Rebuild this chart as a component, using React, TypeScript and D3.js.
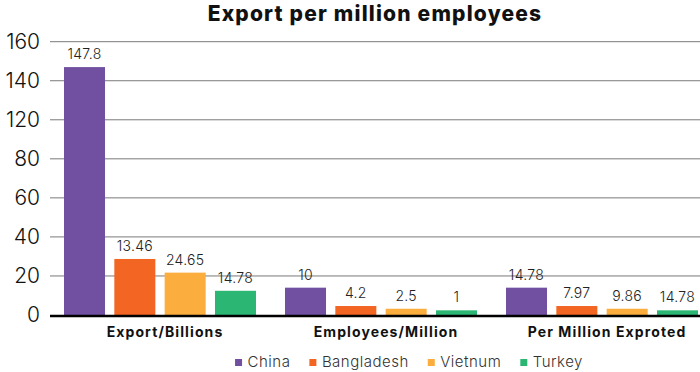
import React, {useEffect, useRef} from 'react'
import * as d3 from 'd3'

const width = 700
const height = 372
const baseY = 315
const topY = 41.7
const plotLeft = 50
const fontFamily = 'Inter, "Open Sans", sans-serif'

const categories = ['Export/Billions', 'Employees/Million', 'Per Million Exproted']
const countries = ['China', 'Bangladesh', 'Vietnum', 'Turkey']
const colors = ['#7150a2', '#f26522', '#fbad3e', '#2bb673']

// bar heights as drawn against the (uneven) axis
const china = [147, 14, 14]
const bangladesh = [28.7, 4.6, 4.6]
const vietnam = [21.7, 3.2, 3.2]
const turkey = [12.4, 2.4, 2.4]

// value labels printed above the bars
const chinaLabels = ['147.8', '10', '14.78']
const bangladeshLabels = ['13.46', '4.2', '7.97']
const vietnamLabels = ['24.65', '2.5', '9.86']
const turkeyLabels = ['14.78', '1', '14.78']

// axis labels as printed (100 is skipped)
const yTicks = [0, 20, 40, 60, 80, 120, 140, 160]

const series = [china, bangladesh, vietnam, turkey]
const seriesLabels = [chinaLabels, bangladeshLabels, vietnamLabels, turkeyLabels]

const App = () => {
  const ref = useRef<SVGSVGElement>(null)

  useEffect(() => {
    const svg = d3.select(ref.current)
    svg.selectAll('*').remove()

    const step = (baseY - topY) / (yTicks.length - 1)
    const y = d3
      .scaleLinear()
      .domain(yTicks)
      .range(yTicks.map((_, i) => baseY - i * step))

    const x0 = d3.scaleBand().domain(categories).range([49.5, 712.5])
    const x1 = d3
      .scaleBand()
      .domain(countries)
      .range([14.5, x0.bandwidth() - 14.5])
      .paddingInner(0.185)

    // title
    svg
      .append('text')
      .attr('x', 375)
      .attr('y', 21)
      .attr('text-anchor', 'middle')
      .style('font-family', fontFamily)
      .style('font-weight', 800)
      .style('font-size', '21px')
      .style('letter-spacing', '1.2px')
      .attr('fill', '#111')
      .text('Export per million employees')

    // gridlines
    svg
      .append('g')
      .selectAll('line')
      .data(yTicks.slice(1))
      .enter()
      .append('line')
      .attr('x1', plotLeft)
      .attr('x2', width)
      .attr('y1', d => y(d))
      .attr('y2', d => y(d))
      .attr('stroke', '#7a7a7a')
      .attr('stroke-width', 1)

    // y axis labels
    const yAxis = svg
      .append('g')
      .attr('transform', `translate(${plotLeft - 10},0)`)
      .call(d3.axisLeft(y).tickValues(yTicks).tickSize(0).tickPadding(0).tickFormat(d3.format('d')))
    yAxis.select('.domain').remove()
    yAxis
      .selectAll('text')
      .style('font-family', fontFamily)
      .style('font-size', '21px')
      .style('font-weight', 300)
      .attr('fill', '#111')

    // bars
    const groups = svg
      .append('g')
      .selectAll('g')
      .data(categories)
      .enter()
      .append('g')
      .attr('transform', d => `translate(${x0(d)},0)`)

    groups.each(function (cat, ci) {
      const g = d3.select(this)
      countries.forEach((c, si) => {
        const v = series[si][ci]
        g.append('rect')
          .attr('x', x1(c)!)
          .attr('y', y(v))
          .attr('width', x1.bandwidth())
          .attr('height', baseY - y(v))
          .attr('fill', colors[si])
        g.append('text')
          .attr('x', x1(c)! + x1.bandwidth() / 2)
          .attr('y', y(v) - 8)
          .attr('text-anchor', 'middle')
          .style('font-family', fontFamily)
          .style('font-size', '14px')
          .style('font-weight', 300)
          .style('letter-spacing', '0.3px')
          .attr('fill', '#222')
          .text(seriesLabels[si][ci])
      })
      g.append('text')
        .attr('x', x0.bandwidth() / 2 + 5)
        .attr('y', 337)
        .attr('text-anchor', 'middle')
        .style('font-family', fontFamily)
        .style('font-weight', 700)
        .style('font-size', '14px')
        .style('letter-spacing', '1.1px')
        .attr('fill', '#111')
        .text(cat)
    })

    // baseline
    svg
      .append('line')
      .attr('x1', plotLeft)
      .attr('x2', width)
      .attr('y1', baseY + 1)
      .attr('y2', baseY + 1)
      .attr('stroke', '#000')
      .attr('stroke-width', 2.5)

    // legend
    const legend = svg.append('g')
    let lx = 0
    countries.forEach((c, i) => {
      const item = legend.append('g').attr('transform', `translate(${lx},0)`)
      item
        .append('rect')
        .attr('x', 0)
        .attr('y', 359)
        .attr('width', 7)
        .attr('height', 7)
        .attr('fill', colors[i])
      const t = item
        .append('text')
        .attr('x', 12.5)
        .attr('y', 367)
        .style('font-family', fontFamily)
        .style('font-size', '15px')
        .style('font-weight', 300)
        .style('letter-spacing', '0.5px')
        .attr('fill', '#333')
        .text(c)
      const w = (t.node() as SVGTextElement).getComputedTextLength()
      lx += 12.5 + w + 19
    })
    const legendWidth = lx - 19
    legend.attr('transform', `translate(${409 - legendWidth / 2},0)`)
  }, [])

  return (
    <svg
      ref={ref}
      width={width}
      height={height}
      style={{position: 'absolute', left: 0, top: 0, background: '#fff'}}
    ></svg>
  )
}

export default App
